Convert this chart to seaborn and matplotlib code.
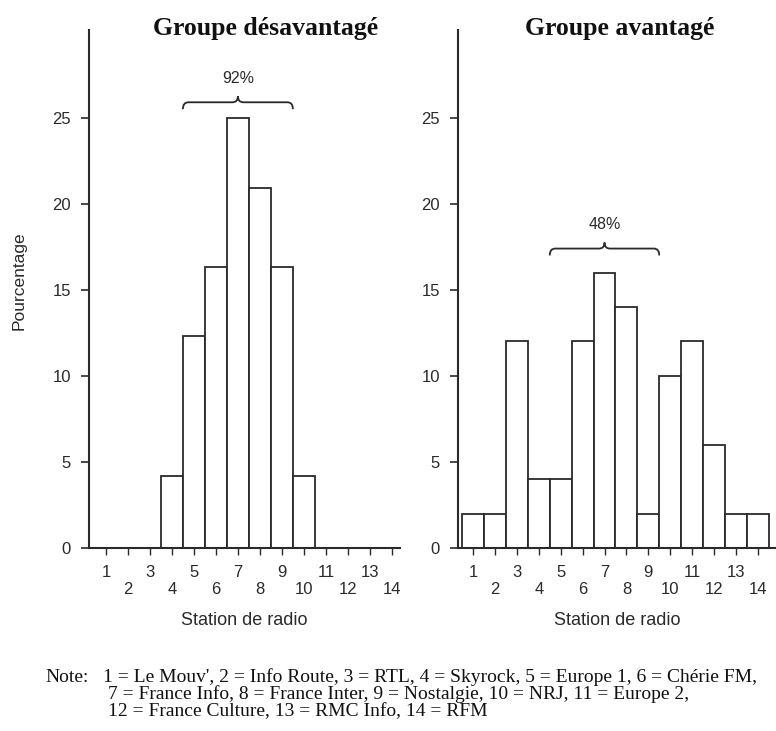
import numpy as np
import pandas as pd
import matplotlib.pyplot as plt
from matplotlib.path import Path
from matplotlib.patches import PathPatch
import seaborn as sns

stations = list(range(1, 15))
pct_desavantage = [0, 0, 0, 4.2, 12.3, 16.3, 25.0, 20.9, 16.3, 4.2, 0, 0, 0, 0]
pct_avantage = [2, 2, 12, 4, 4, 12, 16, 14, 2, 10, 12, 6, 2, 2]
titles = ["Groupe désavantagé", "Groupe avantagé"]
brace_labels = ["92%", "48%"]
brace_range = (5, 9)
brace_levels = [25.9, 17.4]
note_lines = [
    "1 = Le Mouv', 2 = Info Route, 3 = RTL, 4 = Skyrock, 5 = Europe 1, 6 = Chérie FM,",
    "7 = France Info, 8 = France Inter, 9 = Nostalgie, 10 = NRJ, 11 = Europe 2,",
    "12 = France Culture, 13 = RMC Info, 14 = RFM",
]

df = pd.DataFrame({"Station": stations,
                   "desav": pct_desavantage,
                   "av": pct_avantage})

sns.set_style("ticks")
plt.rcParams['font.family'] = ['Liberation Sans', 'DejaVu Sans']
ink = "#2a2a2a"

W, H = 776, 731
fig = plt.figure(figsize=(W / 100, H / 100), dpi=100)
ax1 = fig.add_axes([89 / W, 1 - 548 / H, 311 / W, 518 / H])
ax2 = fig.add_axes([458 / W, 1 - 548 / H, 318 / W, 518 / H])


def brace(ax, x0, x1, y, label):
    xm = (x0 + x1) / 2
    dx, drop, rise = 0.25, 0.4, 0.35
    verts = [(x0, y - drop), (x0, y), (x0 + dx, y), (xm - dx, y),
             (xm, y), (xm, y + rise), (xm, y), (xm + dx, y),
             (x1 - dx, y), (x1, y), (x1, y - drop)]
    codes = [Path.MOVETO, Path.CURVE3, Path.CURVE3, Path.LINETO,
             Path.CURVE3, Path.CURVE3, Path.CURVE3, Path.CURVE3,
             Path.LINETO, Path.CURVE3, Path.CURVE3]
    ax.add_patch(PathPatch(Path(verts, codes), fill=False, ec=ink, lw=1.3))
    ax.text(xm, y + 1.4, label, ha="center", va="center", fontsize=11.5, color=ink)


for i, (ax, col, xl) in enumerate([(ax1, "desav", (0.23, 14.37)),
                                    (ax2, "av", (0.31, 14.83))]):
    sns.barplot(data=df, x="Station", y=col, native_scale=True, width=1,
                color="white", edgecolor=ink, linewidth=1.3, errorbar=None, ax=ax)
    ax.set_xlim(*xl)
    ax.set_ylim(0, 30.1)
    ax.set_yticks([0, 5, 10, 15, 20, 25])
    ax.set_xticks(stations)
    ax.set_xticklabels([str(s) if s % 2 else "\n" + str(s) for s in stations],
                       linespacing=1.1)
    ax.tick_params(axis="y", length=6, width=1.2, pad=7, labelsize=12, colors=ink)
    ax.tick_params(axis="x", length=5, width=1.0, pad=7.5, labelsize=12, colors=ink)
    sns.despine(ax=ax)
    for s in ["left", "bottom"]:
        ax.spines[s].set_linewidth(1.5)
        ax.spines[s].set_color(ink)
    ax.set_xlabel("Station de radio", fontsize=13, color=ink, labelpad=11)
    ax.set_ylabel("")
    brace(ax, brace_range[0] - 0.5, brace_range[1] + 0.5, brace_levels[i], brace_labels[i])

fig.text(19 / W, 1 - 281 / H, "Pourcentage", rotation=90, ha="center", va="center",
         fontsize=12.5, color=ink)

for x, title in zip([266, 620], titles):
    fig.text(x / W, 1 - 28 / H, title, ha="center", va="center", fontsize=18.5,
             fontweight="bold", family="Liberation Serif", color="#111111")

fig.text(45 / W, 1 - 677 / H, "Note:", ha="left", va="center", fontsize=14,
         family="Liberation Serif", color="#111111")
for (x, y), line in zip([(103, 677), (108, 694.5), (108, 712)], note_lines):
    fig.text(x / W, 1 - y / H, line, ha="left", va="center", fontsize=14,
             family="Liberation Serif", color="#111111")

fig.savefig("out.png", dpi=100)
